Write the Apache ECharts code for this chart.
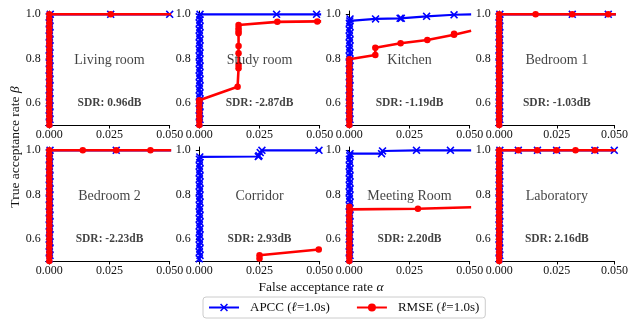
<!DOCTYPE html>
<html>
<head>
<meta charset="utf-8">
<script src="https://cdn.jsdelivr.net/npm/echarts@6/dist/echarts.min.js"></script>
<style>
  html, body { margin: 0; padding: 0; background: #fff; }
  #chart { width: 631px; height: 323px; }
</style>
</head>
<body>
<div id="chart"></div>
<script>
// Room names and separation quality shown in each panel
const rooms = ['Living room', 'Study room', 'Kitchen', 'Bedroom 1',
               'Bedroom 2', 'Corridor', 'Meeting Room', 'Laboratory'];
const sdrLabels = ['SDR: 0.96dB', 'SDR: -2.87dB', 'SDR: -1.19dB', 'SDR: -1.03dB',
                   'SDR: -2.23dB', 'SDR: 2.93dB', 'SDR: 2.20dB', 'SDR: 2.16dB'];
const seriesNames = ['APCC (ℓ=1.0s)', 'RMSE (ℓ=1.0s)'];

// Tick values (false acceptance rate on x, true acceptance rate on y)
const xTicks = [0, 0.025, 0.05];
const yTicks = [0.6, 0.8, 1.0];

// ROC points [alpha, beta] per room
const apccLiving = [[0,0.48],[0.0002,0.495],[0,0.51],[0.0003,0.525],[0,0.54],[0.0002,0.555],[0,0.57],[0.0003,0.585],[0,0.60],[0.0002,0.615],[0,0.63],[0.0003,0.645],[0,0.66],[0.0002,0.675],[0,0.69],[0.0003,0.705],[0,0.72],[0.0002,0.735],[0,0.75],[0.0003,0.765],[0,0.78],[0.0002,0.795],[0,0.81],[0.0003,0.825],[0,0.84],[0.0002,0.855],[0,0.87],[0.0003,0.885],[0,0.90],[0.0002,0.915],[0,0.93],[0.0003,0.945],[0,0.96],[0.0002,0.975],[0,0.99],[0.0004,1.0],[0.0255,1.0],[0.0500,1.0]];
const rmseLiving = [[0,0.48],[0,0.50],[0,0.52],[0,0.54],[0,0.56],[0,0.58],[0,0.60],[0,0.62],[0,0.64],[0,0.66],[0,0.68],[0,0.70],[0,0.72],[0,0.74],[0,0.76],[0,0.78],[0,0.80],[0,0.82],[0,0.84],[0,0.86],[0,0.88],[0,0.90],[0,0.92],[0,0.94],[0,0.96],[0,0.98],[0,1.0],[0.0255,1.0],[0.0506,1.0]];

const apccStudy = [[0,0.48],[0.0002,0.495],[0,0.51],[0.0003,0.525],[0,0.54],[0.0002,0.555],[0,0.57],[0.0003,0.585],[0,0.60],[0.0002,0.615],[0,0.63],[0.0003,0.645],[0,0.66],[0.0002,0.675],[0,0.69],[0.0003,0.705],[0,0.72],[0.0002,0.735],[0,0.75],[0.0003,0.765],[0,0.78],[0.0002,0.795],[0,0.81],[0.0003,0.825],[0,0.84],[0.0002,0.855],[0,0.87],[0.0003,0.885],[0,0.90],[0.0002,0.915],[0,0.93],[0.0003,0.945],[0,0.96],[0.0002,0.975],[0,0.99],[0.0003,1.0],[0.0321,1.0],[0.0487,1.0],[0.0506,1.0]];
const rmseStudy = [[0,0.48],[0,0.50],[0,0.52],[0,0.54],[0,0.56],[0,0.58],[0,0.60],[0,0.612],[0.0159,0.673],[0.0163,0.756],[0.0163,0.771],[0.0163,0.824],[0.0163,0.857],[0.0163,0.914],[0.0163,0.925],[0.0163,0.937],[0.0163,0.952],[0.0324,0.966],[0.0490,0.968],[0.0506,0.968]];

const apccKitchen = [[0,0.48],[0.0002,0.495],[0,0.51],[0.0003,0.525],[0,0.54],[0.0002,0.555],[0,0.57],[0.0003,0.585],[0,0.60],[0.0002,0.615],[0,0.63],[0.0003,0.645],[0,0.66],[0.0002,0.675],[0,0.69],[0.0003,0.705],[0,0.72],[0.0002,0.735],[0,0.75],[0.0003,0.765],[0,0.78],[0.0002,0.795],[0,0.81],[0.0003,0.825],[0,0.84],[0.0002,0.855],[0,0.87],[0.0003,0.885],[0,0.90],[0.0002,0.915],[0,0.93],[0.0003,0.945],[0,0.96],[0.0002,0.97],[0.0003,0.979],[0.0109,0.979],[0.0211,0.982],[0.0216,0.982],[0.0321,0.991],[0.0435,0.998],[0.0506,1.0]];
const rmseKitchen = [[0,0.48],[0,0.50],[0,0.52],[0,0.54],[0,0.56],[0,0.58],[0,0.60],[0,0.62],[0,0.64],[0,0.66],[0,0.68],[0,0.70],[0,0.72],[0,0.74],[0,0.76],[0,0.78],[0,0.797],[0.0108,0.816],[0.0108,0.849],[0.0213,0.869],[0.0324,0.884],[0.0435,0.908],[0.0435,0.912],[0.0506,0.926]];

const apccBed1 = [[0,0.48],[0.0002,0.495],[0,0.51],[0.0003,0.525],[0,0.54],[0.0002,0.555],[0,0.57],[0.0003,0.585],[0,0.60],[0.0002,0.615],[0,0.63],[0.0003,0.645],[0,0.66],[0.0002,0.675],[0,0.69],[0.0003,0.705],[0,0.72],[0.0002,0.735],[0,0.75],[0.0003,0.765],[0,0.78],[0.0002,0.795],[0,0.81],[0.0003,0.825],[0,0.84],[0.0002,0.855],[0,0.87],[0.0003,0.885],[0,0.90],[0.0002,0.915],[0,0.93],[0.0003,0.945],[0,0.96],[0.0002,0.975],[0,0.99],[0.0003,1.0],[0.0317,1.0],[0.0473,1.0],[0.0506,1.0]];
const rmseBed1 = [[0,0.48],[0,0.50],[0,0.52],[0,0.54],[0,0.56],[0,0.58],[0,0.60],[0,0.62],[0,0.64],[0,0.66],[0,0.68],[0,0.70],[0,0.72],[0,0.74],[0,0.76],[0,0.78],[0,0.80],[0,0.82],[0,0.84],[0,0.86],[0,0.88],[0,0.90],[0,0.92],[0,0.94],[0,0.96],[0,0.98],[0,1.0],[0.0158,1.0],[0.0317,1.0],[0.0473,1.0],[0.0506,1.0]];

const apccBed2 = [[0,0.48],[0.0002,0.495],[0,0.51],[0.0003,0.525],[0,0.54],[0.0002,0.555],[0,0.57],[0.0003,0.585],[0,0.60],[0.0002,0.615],[0,0.63],[0.0003,0.645],[0,0.66],[0.0002,0.675],[0,0.69],[0.0003,0.705],[0,0.72],[0.0002,0.735],[0,0.75],[0.0003,0.765],[0,0.78],[0.0002,0.795],[0,0.81],[0.0003,0.825],[0,0.84],[0.0002,0.855],[0,0.87],[0.0003,0.885],[0,0.90],[0.0002,0.915],[0,0.93],[0.0003,0.945],[0,0.96],[0.0002,0.975],[0,0.99],[0.0003,1.0],[0.0278,1.0],[0.0506,1.0]];
const rmseBed2 = [[0,0.48],[0,0.50],[0,0.52],[0,0.54],[0,0.56],[0,0.58],[0,0.60],[0,0.62],[0,0.64],[0,0.66],[0,0.68],[0,0.70],[0,0.72],[0,0.74],[0,0.76],[0,0.78],[0,0.80],[0,0.82],[0,0.84],[0,0.86],[0,0.88],[0,0.90],[0,0.92],[0,0.94],[0,0.96],[0,0.98],[0,1.0],[0.0139,1.0],[0.0278,1.0],[0.0420,1.0],[0.0506,1.0]];

const apccCorridor = [[0,0.48],[0.0002,0.495],[0,0.51],[0.0003,0.525],[0,0.54],[0.0002,0.555],[0,0.57],[0.0003,0.585],[0,0.60],[0.0002,0.615],[0,0.63],[0.0003,0.645],[0,0.66],[0.0002,0.675],[0,0.69],[0.0003,0.705],[0,0.72],[0.0002,0.735],[0,0.75],[0.0003,0.765],[0,0.78],[0.0002,0.795],[0,0.81],[0.0003,0.825],[0,0.84],[0.0002,0.855],[0,0.87],[0.0003,0.885],[0,0.90],[0.0002,0.915],[0,0.93],[0.0003,0.945],[0,0.96],[0.0002,0.970],[0.0245,0.972],[0.0248,0.976],[0.0253,0.990],[0.0260,1.0],[0.0497,1.0],[0.0506,1.0]];
const rmseCorridor = [[0.0250,0.511],[0.0250,0.526],[0.0496,0.552]];

const apccMeeting = [[0,0.48],[0.0002,0.495],[0,0.51],[0.0003,0.525],[0,0.54],[0.0002,0.555],[0,0.57],[0.0003,0.585],[0,0.60],[0.0002,0.615],[0,0.63],[0.0003,0.645],[0,0.66],[0.0002,0.675],[0,0.69],[0.0003,0.705],[0,0.72],[0.0002,0.735],[0,0.75],[0.0003,0.765],[0,0.78],[0.0002,0.795],[0,0.81],[0.0003,0.825],[0,0.84],[0.0002,0.855],[0,0.87],[0.0003,0.885],[0,0.90],[0.0002,0.915],[0,0.93],[0.0003,0.945],[0,0.96],[0.0002,0.975],[0.0003,0.985],[0.0134,0.985],[0.0138,0.997],[0.0279,1.0],[0.0420,1.0],[0.0506,1.0]];
const rmseMeeting = [[0,0.48],[0,0.50],[0,0.52],[0,0.54],[0,0.56],[0,0.58],[0,0.60],[0,0.62],[0,0.64],[0,0.66],[0,0.68],[0,0.70],[0,0.72],[0,0.745],[0.0002,0.733],[0.0285,0.736],[0.0506,0.743]];

const apccLab = [[0,0.48],[0.0002,0.495],[0,0.51],[0.0003,0.525],[0,0.54],[0.0002,0.555],[0,0.57],[0.0003,0.585],[0,0.60],[0.0002,0.615],[0,0.63],[0.0003,0.645],[0,0.66],[0.0002,0.675],[0,0.69],[0.0003,0.705],[0,0.72],[0.0002,0.735],[0,0.75],[0.0003,0.765],[0,0.78],[0.0002,0.795],[0,0.81],[0.0003,0.825],[0,0.84],[0.0002,0.855],[0,0.87],[0.0003,0.885],[0,0.90],[0.0002,0.915],[0,0.93],[0.0003,0.945],[0,0.96],[0.0002,0.975],[0,0.99],[0.0003,1.0],[0.0083,1.0],[0.0166,1.0],[0.0249,1.0],[0.0415,1.0],[0.0499,1.0],[0.0506,1.0]];
const rmseLab = [[0,0.48],[0,0.50],[0,0.52],[0,0.54],[0,0.56],[0,0.58],[0,0.60],[0,0.62],[0,0.64],[0,0.66],[0,0.68],[0,0.70],[0,0.72],[0,0.74],[0,0.76],[0,0.78],[0,0.80],[0,0.82],[0,0.84],[0,0.86],[0,0.88],[0,0.90],[0,0.92],[0,0.94],[0,0.96],[0,0.98],[0,1.0],[0.0083,1.0],[0.0165,1.0],[0.0248,1.0],[0.0331,1.0],[0.0415,1.0],[0.0506,1.0]];

const apccAll = [apccLiving, apccStudy, apccKitchen, apccBed1, apccBed2, apccCorridor, apccMeeting, apccLab];
const rmseAll = [rmseLiving, rmseStudy, rmseKitchen, rmseBed1, rmseBed2, rmseCorridor, rmseMeeting, rmseLab];

const FONT = '"Liberation Serif", "DejaVu Serif", serif';
const BLUE = '#0000ff';
const RED = '#ff0000';
const CROSS = 'path://M0,1.4 L1.4,0 L5,3.6 L8.6,0 L10,1.4 L6.4,5 L10,8.6 L8.6,10 L5,6.4 L1.4,10 L0,8.6 L3.6,5 Z';

const chart = echarts.init(document.getElementById('chart'), null, { renderer: 'canvas' });

const grids = [], xAxes = [], yAxes = [], series = [];
for (let i = 0; i < rooms.length; i++) {
  const col = i % 4, row = Math.floor(i / 4);
  grids.push({ left: 45.7 + 150 * col, top: 11 + 136 * row, width: 124, height: 114 });
  xAxes.push({
    type: 'value', gridIndex: i, min: -0.0015, max: 0.05,
    splitLine: { show: false },
    axisLine: { lineStyle: { color: '#000', width: 1 } },
    axisTick: { show: true, length: 3.5, customValues: xTicks, lineStyle: { color: '#000' } },
    axisLabel: { customValues: xTicks, margin: 4, color: '#111', fontFamily: FONT, fontSize: 12,
                 formatter: v => v.toFixed(3) }
  });
  yAxes.push({
    type: 'value', gridIndex: i, min: 0.5, max: 1.015,
    splitLine: { show: false },
    axisLine: { show: true, lineStyle: { color: '#000', width: 1 } },
    axisTick: { show: true, length: 3.5, customValues: yTicks, lineStyle: { color: '#000' } },
    axisLabel: { customValues: yTicks, margin: 5, color: '#111', fontFamily: FONT, fontSize: 12,
                 formatter: v => v.toFixed(1) }
  });
  series.push({
    name: seriesNames[0], type: 'line', xAxisIndex: i, yAxisIndex: i, data: apccAll[i],
    symbol: CROSS, symbolSize: 8, showAllSymbol: true, clip: true,
    lineStyle: { color: BLUE, width: 2.2 }, itemStyle: { color: BLUE }, animation: false, z: 2
  });
  series.push({
    name: seriesNames[1], type: 'line', xAxisIndex: i, yAxisIndex: i, data: rmseAll[i],
    symbol: 'circle', symbolSize: 6.5, showAllSymbol: true, clip: true,
    lineStyle: { color: RED, width: 2.6 }, itemStyle: { color: RED }, animation: false, z: 3
  });
  // room name and SDR annotation inside the panel
  series.push({
    type: 'scatter', xAxisIndex: i, yAxisIndex: i, symbolSize: 1, silent: true,
    itemStyle: { color: 'rgba(0,0,0,0)' }, animation: false, z: 4,
    data: [
      { value: [0.025, 0.79], label: { show: true, position: 'inside', formatter: rooms[i],
        fontFamily: FONT, fontSize: 14, color: '#111' } },
      { value: [0.025, 0.60], label: { show: true, position: 'inside', formatter: sdrLabels[i],
        fontFamily: FONT, fontSize: 11.5, fontWeight: 'bold', color: '#111' } }
    ]
  });
}

chart.setOption({
  backgroundColor: '#fff',
  animation: false,
  grid: grids,
  xAxis: xAxes,
  yAxis: yAxes,
  series: series,
  legend: {
    data: seriesNames,
    left: 203, top: 297,
    padding: [4, 6, 4, 5],
    itemWidth: 30, itemHeight: 10, itemGap: 26,
    borderColor: '#cccccc', borderWidth: 1, borderRadius: 3,
    formatter: n => n.replace('ℓ', '{i|ℓ}'),
    textStyle: {
      fontFamily: FONT, fontSize: 13, color: '#111', padding: [0, 0, 0, 6],
      rich: { i: { fontFamily: FONT, fontSize: 13, fontStyle: 'italic', color: '#111' } }
    }
  },
  graphic: [
    {
      type: 'text', x: 321, y: 287,
      style: {
        text: 'False acceptance rate {i|α}', fill: '#111', font: '13.5px ' + FONT,
        textAlign: 'center', textVerticalAlign: 'middle',
        rich: { i: { fontStyle: 'italic', fontFamily: FONT, fontSize: 13.5 } }
      }
    },
    {
      type: 'text', x: 15, y: 147, rotation: Math.PI / 2,
      style: {
        text: 'True acceptance rate {i|β}', fill: '#111', font: '13.5px ' + FONT,
        textAlign: 'center', textVerticalAlign: 'middle',
        rich: { i: { fontStyle: 'italic', fontFamily: FONT, fontSize: 13.5 } }
      }
    }
  ]
});
</script>
</body>
</html>
